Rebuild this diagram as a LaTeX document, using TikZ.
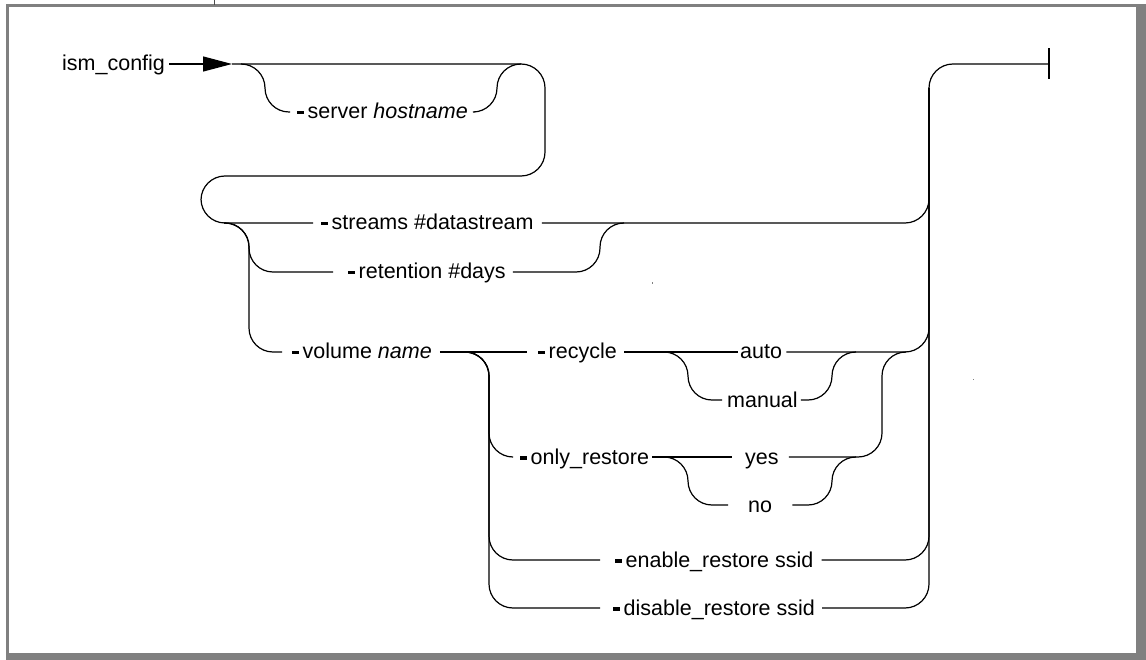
\documentclass[tikz,border=0pt]{standalone}
\usepackage{fontspec}
\setmainfont{Liberation Sans}
\usetikzlibrary{arrows.meta}
\definecolor{framegray}{RGB}{128,128,128}
\newcommand\dsh{\rule[4.5pt]{7pt}{3.8pt}\kern3.5pt}
\begin{document}
\begin{tikzpicture}[x=1pt,y=-1pt,
  rr/.style={line width=1.2pt, rounded corners=24pt},
  lbl/.style={anchor=west, inner xsep=0pt, inner ysep=0pt, text height=16pt, text depth=2pt,
              font=\fontsize{21.5pt}{25pt}\selectfont},
]
\useasboundingbox (0,0) rectangle (1146,660);
% frame
\fill[framegray] (6,4) rectangle (1146,7);
\fill[framegray] (6,4) rectangle (9,660);
\fill[framegray] (1136,7) rectangle (1146,660);
\fill[framegray] (6,653) rectangle (1146,660);
\draw[black!70, line width=1pt] (214,0) -- (214,5);
\fill[framegray] (651.5,282.5) rectangle (653,284);
\fill[framegray] (972.5,378.5) rectangle (974,380);

% labels
\node[lbl] (ism) at (62,64) {ism\_config\kern4pt};
\node[lbl] (server) at (290,112) {\kern7pt\dsh server \textit{hostname}\kern7pt};
\node[lbl] (streams) at (313,223) {\kern8pt\dsh streams \#datastream\kern8pt};
\node[lbl] (ret) at (333,272) {\kern15pt\dsh retention \#days\kern7pt};
\node[lbl] (vol) at (282,352) {\kern10pt\dsh volume \textit{name}\kern8pt};
\node[lbl] (rec) at (527,352) {\kern11pt\dsh recycle\kern7pt};
\node[lbl] (auto) at (738,352) {\kern2pt auto\kern4pt};
\node[lbl] (manual) at (722,400) {\kern5pt manual\kern3pt};
\node[lbl] (onlyr) at (512,457) {\kern8pt\dsh only\_restore\kern3pt};
\node[lbl] (yes) at (732,457) {\kern13pt yes\kern10pt};
\node[lbl] (no) at (728,505) {\kern20pt no\kern20pt};
\node[lbl] (enable) at (600,560) {\kern15pt\dsh enable\_restore ssid\kern8pt};
\node[lbl] (disable) at (600,608) {\kern13pt\dsh disable\_restore ssid\kern7pt};

% junctions
\coordinate (tip) at (232,64);
\coordinate (fin) at (1049,64);
\coordinate (jS) at (241,64);
\coordinate (mS) at (521,64);
\coordinate (jR) at (224,223);
\coordinate (mR) at (624,223);
\coordinate (jV) at (464,352);
\coordinate (jM) at (664,352);
\coordinate (mM) at (856,352);
\coordinate (mY) at (906,352);
\coordinate (jN) at (664,457);
\coordinate (mN) at (856,457);
\coordinate (exitV) at (929,88);

% connectors
\draw[line width=1.2pt,-{Triangle[length=29pt,width=15pt]}] (ism.east) -- (tip);
\draw[rr] (tip) -- (545,64) -- (545,176) -- (201,176) -- (201,223) -- (streams.west);
\draw[rr] (jS) -- (265,64) -- (265,112) -- (server.west);
\draw[rr] (server.east) -- (497,112) -- (497,64) -- (mS);
\draw[rr] (streams.east) -- (929,223) -- (929,64) -- (fin);
\draw[line width=1.2pt] ([yshift=15.5pt]fin) -- ([yshift=-15.5pt]fin);
\draw[rr] (jR) -- (249,223) -- (249,272) -- (ret.west);
\draw[rr] (ret.east) -- (600,272) -- (600,223) -- (mR);
\draw[rr] (jR) -- (249,223) -- (249,352) -- (vol.west);
\draw[rr] (vol.east) -- (rec.west);
\draw[rr] (rec.east) -- (auto.west);
\draw[rr] (auto.east) -- (929,352) -- (exitV);
\draw[rr] (jM) -- (688,352) -- (688,400) -- (manual.west);
\draw[rr] (manual.east) -- (832,400) -- (832,352) -- (mM);
\draw[rr] (jV) -- (489,352) -- (489,457) -- (onlyr.west);
\draw[rr] (onlyr.east) -- (yes.west);
\draw[rr] (yes.east) -- (882,457) -- (882,352) -- (mY);
\draw[rr] (jN) -- (688,457) -- (688,505) -- (no.west);
\draw[rr] (no.east) -- (832,505) -- (832,457) -- (mN);
\draw[rr] (jV) -- (489,352) -- (489,560) -- (enable.west);
\draw[rr] (enable.east) -- (929,560) -- (exitV);
\draw[rr] (jV) -- (489,352) -- (489,608) -- (disable.west);
\draw[rr] (disable.east) -- (929,608) -- (exitV);
\end{tikzpicture}
\end{document}
